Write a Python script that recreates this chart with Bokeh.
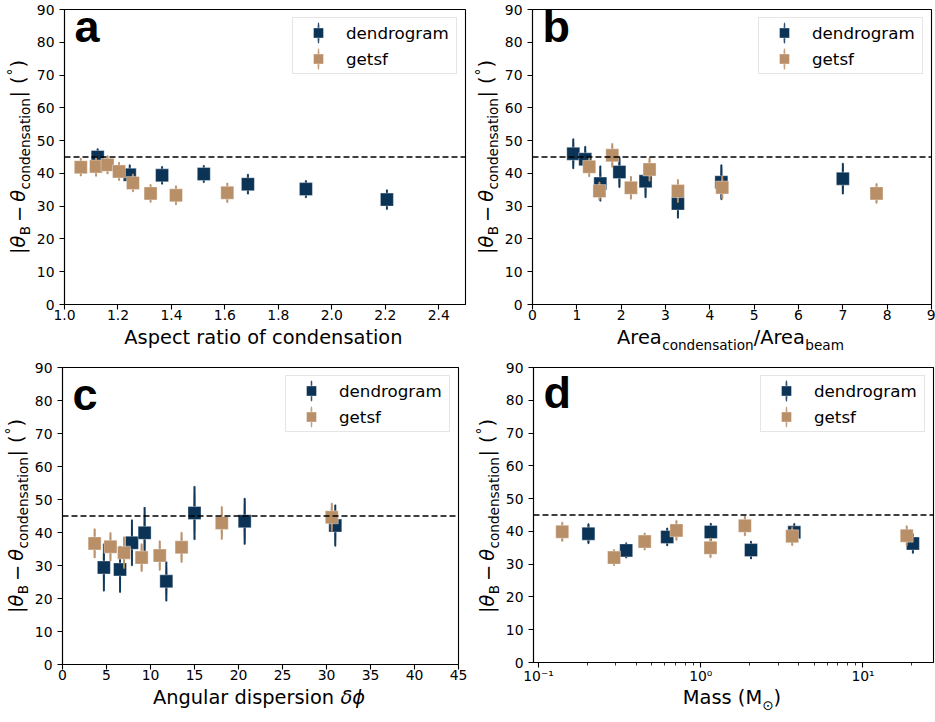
import numpy as np
from bokeh.plotting import figure
from bokeh.models import (ColumnDataSource, Span, Label, Legend, LegendItem,
                          FixedTicker, Range1d, NumeralTickFormatter)
from bokeh.layouts import column, row
from bokeh.embed import file_html
from bokeh.resources import INLINE

# ---------------- data ----------------
a_dendro_x = [1.124, 1.244, 1.365, 1.521, 1.686, 1.903, 2.206]
a_dendro_y = [45.0, 39.6, 39.4, 39.8, 36.7, 35.2, 32.0]
a_dendro_err = [2.5, 3.0, 2.7, 2.6, 3.0, 2.6, 3.0]
a_getsf_x = [1.061, 1.118, 1.161, 1.204, 1.256, 1.322, 1.417, 1.609]
a_getsf_y = [41.9, 42.1, 42.6, 40.6, 37.1, 33.9, 33.3, 34.1]
a_getsf_err = [2.7, 3.0, 2.8, 2.8, 2.7, 2.7, 2.9, 3.0]

b_dendro_x = [0.92, 1.19, 1.53, 1.96, 2.55, 3.28, 4.26, 7.00]
b_dendro_y = [46.0, 44.3, 36.9, 40.4, 37.6, 30.8, 37.3, 38.4]
b_dendro_err = [4.6, 4.0, 5.4, 4.7, 5.0, 4.5, 5.3, 4.7]
b_getsf_x = [1.28, 1.51, 1.80, 2.22, 2.64, 3.28, 4.28, 7.76]
b_getsf_y = [42.0, 34.6, 45.5, 35.6, 41.2, 34.6, 35.7, 33.9]
b_getsf_err = [3.0, 2.8, 3.6, 3.5, 3.6, 3.5, 3.5, 3.0]

c_dendro_x = [4.70, 6.54, 7.89, 9.33, 11.8, 15.0, 20.7, 31.0]
c_dendro_y = [29.4, 28.8, 36.9, 39.9, 25.2, 45.9, 43.4, 42.1]
c_dendro_err = [7.2, 7.0, 7.0, 7.8, 6.0, 8.1, 7.0, 6.3]
c_getsf_x = [3.65, 5.45, 6.99, 8.99, 11.05, 13.53, 18.1, 30.6]
c_getsf_y = [36.7, 35.7, 33.9, 32.4, 33.0, 35.5, 42.9, 44.6]
c_getsf_err = [4.4, 4.3, 4.8, 4.2, 4.5, 4.6, 5.0, 4.3]

d_dendro_x = [0.203, 0.347, 0.621, 1.153, 2.04, 3.77, 20.3]
d_dendro_y = [39.3, 34.2, 38.3, 39.8, 34.3, 39.7, 36.3]
d_dendro_err = [3.0, 2.3, 2.7, 2.7, 2.7, 2.7, 3.0]
d_getsf_x = [0.140, 0.292, 0.451, 0.708, 1.148, 1.87, 3.66, 18.6]
d_getsf_y = [39.9, 32.0, 36.9, 40.3, 35.0, 41.7, 38.5, 38.7]
d_getsf_err = [2.9, 2.5, 2.6, 3.0, 3.0, 3.0, 2.8, 3.0]

y_ticks = [0, 10, 20, 30, 40, 50, 60, 70, 80, 90]
a_ticks = [1.0, 1.2, 1.4, 1.6, 1.8, 2.0, 2.2, 2.4]
b_ticks = [0, 1, 2, 3, 4, 5, 6, 7, 8, 9]
c_ticks = [0, 5, 10, 15, 20, 25, 30, 35, 40, 45]
d_ticks = [0.1, 1, 10]
d_tick_labels = ["10\u207b\u00b9", "10\u2070", "10\u00b9"]
d_minor = [0.2, 0.3, 0.4, 0.5, 0.6, 0.7, 0.8, 0.9, 2, 3, 4, 5, 6, 7, 8, 9, 20]
series_names = ["dendrogram", "getsf"]
threshold = 45

# ---------------- style ----------------
NAVY = "#0b3356"
TAN = "#b98f68"
FONT = "DejaVu Sans"
MAIN = 19.4
SUB = 13.6
TICK = "13.9px"
BASE_K = 0.36   # calibration of text baseline placement
XSHIFT = -31    # calibration of horizontal placement in x-label strips

W = {" ": .318, "A": .684, "r": .411, "e": .615, "a": .613, "c": .550, "o": .612,
     "n": .634, "d": .635, "s": .521, "t": .392, "i": .278, "b": .635, "m": .974,
     "/": .337, "M": .863, "(": .390, ")": .390, "\u2299": .838, "|": .337,
     "\u03b8": .602, "B": .686, "\u2212": .838, "\u00b0": .5, "g": .635, "u": .634,
     "l": .278, "p": .635, "\u03b4": .612, "\u03d5": .66, "f": .352, "R": .695}


def tw(s, size):
    return sum(W.get(ch, 0.6) for ch in s) * size


def put_label(p, text, x, y, size, style, angle=0.0):
    p.add_layout(Label(x=x, y=y, x_units="screen", y_units="screen", text=text,
                       angle=angle, text_font=FONT, text_font_size=f"{size}px",
                       text_font_style=style, text_color="black",
                       text_align="left", text_baseline="alphabetic"))


def hlabel(p, pieces, cx, base_y):
    total = sum(tw(t, s) + g for t, s, st, dn, g in pieces)
    x = cx - total / 2 + XSHIFT
    for t, s, st, dn, g in pieces:
        put_label(p, t, x, base_y - dn + BASE_K * s, s, st)
        x += tw(t, s) + g


def vlabel(p, pieces, base_x, cy):
    total = sum(tw(t, s) + g for t, s, st, dn, g in pieces)
    y = cy - total / 2
    for t, s, st, dn, g in pieces:
        put_label(p, t, base_x + dn - BASE_K * s, y, s, st, angle=np.pi / 2)
        y += tw(t, s) + g


YLABEL = [("|", MAIN, "normal", 0, 0), ("\u03b8", MAIN, "italic", 0, 0.5),
          ("B", SUB, "normal", 4.5, 4), ("\u2212", MAIN, "normal", 0, 4),
          ("\u03b8", MAIN, "italic", 0, 0.5), ("condensation", SUB, "normal", 4.5, 0.5),
          ("|", MAIN, "normal", 0, 7), ("(", MAIN, "normal", 0, 1),
          ("\u00b0", SUB, "normal", -8, 1), (")", MAIN, "normal", 0, 0)]


def label_fig(w, h):
    f = figure(width=w, height=h, x_range=Range1d(0, 1), y_range=Range1d(0, 1),
               output_backend="svg", toolbar_location=None,
               x_axis_location=None, y_axis_location=None,
               min_border_left=0, min_border_right=0, min_border_top=0,
               min_border_bottom=0)
    f.outline_line_color = None
    f.xgrid.visible = False
    f.ygrid.visible = False
    return f


def panel(letter, xr, w, h, bl, bt, br, bb, dx, dy, de, gx, gy, ge, xticks,
          letter_top, xlog=False, overrides=None, minor=None, fmt=None):
    fh = h - bt - bb
    p = figure(width=w, height=h, x_range=Range1d(*xr), y_range=Range1d(0, 90),
               x_axis_type="log" if xlog else "linear", output_backend="svg",
               toolbar_location=None, min_border_left=bl, min_border_right=br,
               min_border_top=bt, min_border_bottom=bb)
    p.xgrid.visible = False
    p.ygrid.visible = False
    p.outline_line_color = "black"
    p.outline_line_width = 1.1
    p.outline_line_alpha = 1.0
    p.yaxis.ticker = FixedTicker(ticks=y_ticks)
    if minor is not None:
        p.xaxis.ticker = FixedTicker(ticks=xticks, minor_ticks=minor)
    else:
        p.xaxis.ticker = FixedTicker(ticks=xticks)
    if overrides:
        p.xaxis.major_label_overrides = overrides
    if fmt:
        p.xaxis.formatter = NumeralTickFormatter(format=fmt)
    for ax in (p.xaxis[0], p.yaxis[0]):
        ax.axis_line_color = "black"
        ax.axis_line_width = 1.1
        ax.major_tick_line_color = "black"
        ax.major_tick_line_width = 1.1
        ax.major_tick_out = 5
        ax.major_tick_in = 0
        ax.minor_tick_line_color = "black"
        ax.minor_tick_line_width = 0.8
        ax.minor_tick_out = 3
        ax.minor_tick_in = 0
        ax.major_label_text_font = FONT
        ax.major_label_text_font_size = TICK
        ax.major_label_text_color = "black"
    p.xaxis.major_label_standoff = 0
    p.yaxis.major_label_standoff = 5

    p.add_layout(Span(location=threshold, dimension="width", line_color="black",
                      line_dash="6 3", line_width=1.5))

    items = []
    for name, xs, ys, es, col in [(series_names[0], dx, dy, de, NAVY),
                                  (series_names[1], gx, gy, ge, TAN)]:
        src = ColumnDataSource(dict(x=xs, y=ys,
                                    lo=[v - e for v, e in zip(ys, es)],
                                    hi=[v + e for v, e in zip(ys, es)],
                                    h=[2 * e for e in es]))
        bar = p.ellipse(x="x", y="y", width={"value": 0.4, "units": "screen"},
                        height="h", source=src, fill_color=None, line_color=col,
                        line_width=1.6, line_alpha=0.85)
        p.segment(x0="x", y0="lo", x1="x", y1="hi", source=src, line_color=col,
                  line_width=2, line_alpha=0.85)
        sq = p.scatter("x", "y", source=src, marker="square", size=13,
                       fill_color=col, line_color="white", line_width=0.6,
                       line_alpha=0.6)
        items.append(LegendItem(label=name, renderers=[bar, sq]))

    lg = Legend(items=items, location="top_right")
    lg.label_text_font = FONT
    lg.label_text_font_size = "16.7px"
    lg.label_text_color = "black"
    lg.glyph_width = 46
    lg.glyph_height = 25
    lg.label_height = 25
    lg.label_width = 108
    lg.label_standoff = 5
    lg.spacing = 1
    lg.padding = 2
    lg.margin = 8
    lg.border_line_color = "#cccccc"
    lg.border_line_width = 1
    lg.background_fill_color = "white"
    lg.background_fill_alpha = 0.8
    p.add_layout(lg)

    # panel letter (baseline letter_top px below frame top)
    p.add_layout(Label(x=10, y=fh - letter_top + BASE_K * 45, x_units="screen",
                       y_units="screen", text=letter, text_font="Liberation Sans",
                       text_font_style="bold", text_font_size="45px",
                       text_color="black", text_baseline="alphabetic"))
    return p


XL_A = [("Aspect ratio of condensation", MAIN, "normal", 0, 0)]
XL_B = [("Area", MAIN, "normal", 0, 0), ("condensation", SUB, "normal", 5, 0),
        ("/Area", MAIN, "normal", 0, 0), ("beam", SUB, "normal", 5, 0)]
XL_C = [("Angular dispersion ", MAIN, "normal", 0, 0),
        ("\u03b4\u03d5", MAIN, "italic", 0, 0)]
XL_D = [("Mass (M", MAIN, "normal", 0, 0), ("\u2299", SUB, "normal", 5, 0),
        (")", MAIN, "normal", 0, 0)]

# top row: frames y 9..304 ; bottom row: frames y 367..664
pa = panel("a", (1.0, 2.5), 437, 326, 28, 9, 5, 22,
           a_dendro_x, a_dendro_y, a_dendro_err, a_getsf_x, a_getsf_y, a_getsf_err,
           a_ticks, 33, fmt="0.0")
pb = panel("b", (0, 9), 434, 326, 28, 9, 4, 22,
           b_dendro_x, b_dendro_y, b_dendro_err, b_getsf_x, b_getsf_y, b_getsf_err,
           b_ticks, 33)
pc = panel("c", (0, 45), 439, 326, 28, 7, 12, 22,
           c_dendro_x, c_dendro_y, c_dendro_err, c_getsf_x, c_getsf_y, c_getsf_err,
           c_ticks, 43)
pd_ = panel("d", (0.0931, 27.2), 433, 326, 28, 7, 2, 22,
            d_dendro_x, d_dendro_y, d_dendro_err, d_getsf_x, d_getsf_y, d_getsf_err,
            d_ticks, 43, xlog=True,
            overrides={t: l for t, l in zip(d_ticks, d_tick_labels)}, minor=d_minor)

# y-label strips (left of each panel); main baseline 36 px left of frame
ya = label_fig(33, 360); vlabel(ya, YLABEL, 25, 360 - 156.5)
yb = label_fig(31, 360); vlabel(yb, YLABEL, 23, 360 - 156.5)
yc = label_fig(31, 362); vlabel(yc, YLABEL, 23, 362 - 155.5)
yd = label_fig(32, 362); vlabel(yd, YLABEL, 24, 362 - 155.5)

# x-label strips (below each panel)
xa = label_fig(437, 34); hlabel(xa, XL_A, 28 + 202, 16)
xb = label_fig(434, 34); hlabel(xb, XL_B, 28 + 201, 16)
xc = label_fig(439, 36); hlabel(xc, XL_C, 28 + 199.5, 18)
xd = label_fig(433, 36); hlabel(xd, XL_D, 28 + 201.5, 18)

layout = column(
    row(ya, column(pa, xa), yb, column(pb, xb)),
    row(yc, column(pc, xc), yd, column(pd_, xd)),
)
open("out.html", "w").write(file_html(layout, INLINE))
